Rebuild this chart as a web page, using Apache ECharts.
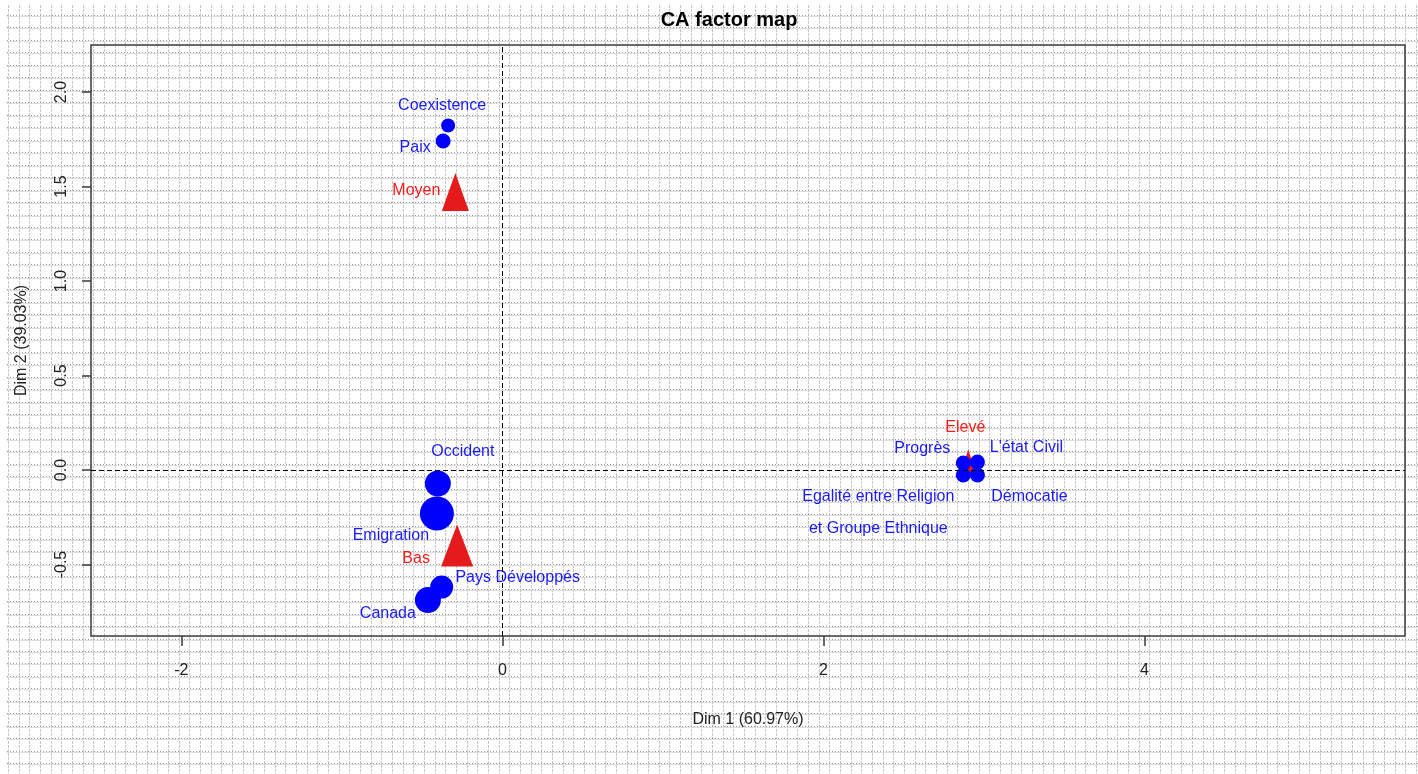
<!DOCTYPE html>
<html>
<head>
<meta charset="utf-8">
<title>CA factor map</title>
<script src="https://cdn.jsdelivr.net/npm/echarts@6/dist/echarts.min.js"></script>
<style>
  html, body { margin: 0; padding: 0; background: #ffffff; }
  #paper { position: absolute; left: 0; top: 0; width: 1418px; height: 774px; z-index: 0; }
  #chart { position: absolute; left: 0; top: 0; width: 1418px; height: 774px; z-index: 1; }
</style>
</head>
<body>
<svg id="paper" xmlns="http://www.w3.org/2000/svg" width="1418" height="774"></svg>
<div id="chart"></div>
<script>
// Row profiles (blue circles)
const rowNames = ['Coexistence', 'Paix', 'Occident', 'Emigration', 'Pays Développés', 'Canada',
  'Progrès', "L'état Civil", 'Egalité entre Religion\net Groupe Ethnique', 'Démocatie'];
const rowDim1 = [-0.338, -0.369, -0.402, -0.408, -0.378, -0.464, 2.872, 2.960, 2.872, 2.960];
const rowDim2 = [1.823, 1.741, -0.071, -0.230, -0.619, -0.688, 0.037, 0.042, -0.026, -0.026];

// Column profiles (red triangles)
const colNames = ['Moyen', 'Bas', 'Elevé'];
const colDim1 = [-0.293, -0.282, 2.903];
const colDim2 = [1.471, -0.399, 0.042];

// Axis ticks
const xTicks = [-2, 0, 2, 4];
const yTicks = [-0.5, 0, 0.5, 1, 1.5, 2];
const xTitle = 'Dim 1 (60.97%)';
const yTitle = 'Dim 2 (39.03%)';
const chartTitle = 'CA factor map';

// Marker sizes and label placement (pixels)
const rowSizes = [14, 15, 26, 34, 23, 26, 15, 15, 15, 15];
const colSizes = [[27, 38], [32, 42], [16, 25]];
const rowLabelOffsets = [[-6, -20], [-28, 7], [25, -32], [-46, 22], [76, -9], [-40, 14],
  [-41, -14], [49, -15], [-85, 38], [52, 22]];
const colLabelOffsets = [[-39, -1], [-41, 13], [-3, -35]];

// Graph-paper background
(function drawPaper() {
  const svg = document.getElementById('paper');
  const ns = 'http://www.w3.org/2000/svg';
  const add = (x1, y1, x2, y2, stroke, dash) => {
    const l = document.createElementNS(ns, 'line');
    l.setAttribute('x1', x1); l.setAttribute('y1', y1);
    l.setAttribute('x2', x2); l.setAttribute('y2', y2);
    l.setAttribute('stroke', stroke); l.setAttribute('stroke-width', 1);
    if (dash) l.setAttribute('stroke-dasharray', dash);
    svg.appendChild(l);
  };
  for (let x = 8; x < 1418; x += 32 / 3) {
    const px = Math.round(x) + 0.5;
    add(px, 5, px, 774, '#c8c8c8', '3,1');
  }
  for (let y = 16; y < 774; y += 12.47) {
    const py = Math.round(y) + 0.5;
    add(7, py, 1418, py, '#dedede', null);
    add(7, py - 1, 1418, py - 1, '#9a9a9a', '1,2');
  }
})();

const font = "'Liberation Sans', Arial, sans-serif";

const rowData = rowNames.map((n, i) => ({
  name: n,
  value: [rowDim1[i], rowDim2[i]],
  symbolSize: rowSizes[i],
  label: { offset: rowLabelOffsets[i] }
}));
const colData = colNames.map((n, i) => ({
  name: n,
  value: [colDim1[i], colDim2[i]],
  symbolSize: colSizes[i],
  label: { offset: colLabelOffsets[i] }
}));

const chart = echarts.init(document.getElementById('chart'), null, { renderer: 'canvas' });
chart.setOption({
  backgroundColor: 'transparent',
  animation: false,
  title: {
    text: chartTitle,
    left: 724,
    textAlign: 'center',
    top: 5,
    textStyle: { fontFamily: font, fontSize: 20, fontWeight: 'bold', color: '#000' }
  },
  grid: {
    left: 91, right: 13, top: 45, bottom: 138,
    show: true, borderColor: '#3a3a3a', borderWidth: 1.5, backgroundColor: 'transparent'
  },
  xAxis: {
    type: 'value',
    min: -2.563, max: 5.624,
    name: xTitle,
    nameLocation: 'middle',
    nameGap: 76,
    nameTextStyle: { fontFamily: font, fontSize: 16, color: '#222' },
    axisLine: { show: false, onZero: false },
    splitLine: { show: false },
    axisTick: { show: true, length: 10, customValues: xTicks, lineStyle: { color: '#3a3a3a', width: 1.5 } },
    axisLabel: { customValues: xTicks, margin: 27, fontFamily: font, fontSize: 16, color: '#222',
      formatter: v => String(v) }
  },
  yAxis: {
    type: 'value',
    min: -0.878, max: 2.249,
    name: yTitle,
    nameLocation: 'middle',
    nameGap: 61,
    nameRotate: 90,
    nameTextStyle: { fontFamily: font, fontSize: 16, color: '#222' },
    axisLine: { show: false, onZero: false },
    splitLine: { show: false },
    axisTick: { show: true, length: 9, customValues: yTicks, lineStyle: { color: '#3a3a3a', width: 1.5 } },
    axisLabel: { customValues: yTicks, rotate: 90, margin: 21, fontFamily: font, fontSize: 16, color: '#222',
      formatter: v => Number(v).toFixed(1) }
  },
  series: [
    {
      type: 'scatter',
      name: 'Colonnes',
      z: 2,
      symbol: 'triangle',
      itemStyle: { color: '#e41a1c', opacity: 1 },
      label: { show: true, position: 'inside', formatter: p => p.name,
        fontFamily: font, fontSize: 16, color: '#ff1a1a' },
      data: colData,
      markLine: {
        silent: true,
        symbol: 'none',
        label: { show: false },
        lineStyle: { color: '#000', type: [5, 3], width: 1 },
        data: [{ xAxis: 0 }, { yAxis: 0 }]
      }
    },
    {
      type: 'scatter',
      name: 'Lignes',
      z: 3,
      symbol: 'circle',
      itemStyle: { color: '#0000ff', opacity: 1 },
      label: { show: true, position: 'inside', formatter: p => p.name,
        fontFamily: font, fontSize: 16, color: '#1a1aff', lineHeight: 32, align: 'center' },
      data: rowData
    }
  ]
});
</script>
</body>
</html>
